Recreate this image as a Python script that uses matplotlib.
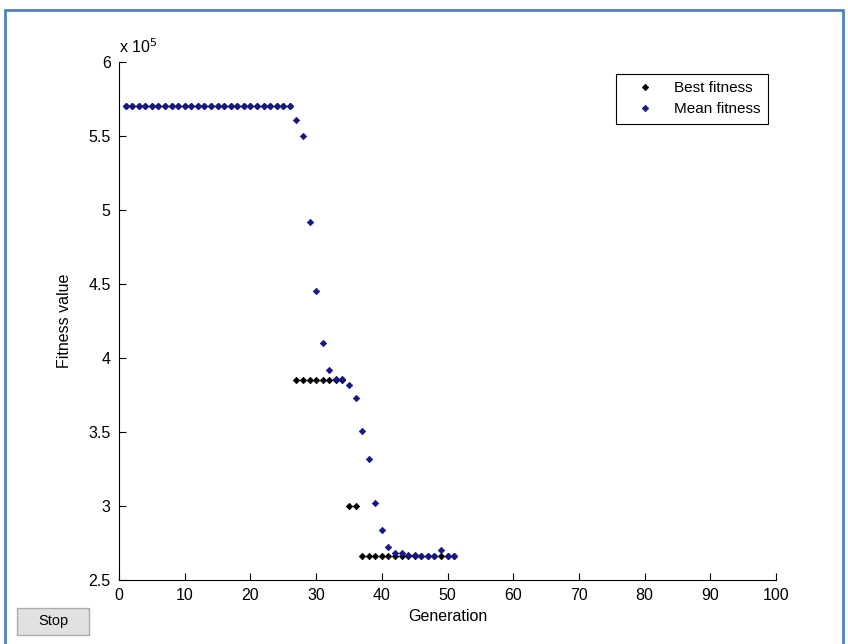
import matplotlib.pyplot as plt
from matplotlib.patches import Rectangle

plt.rcParams["font.family"] = ["Liberation Sans", "DejaVu Sans"]

# GA fitness per generation (x 1e5)
generations = list(range(1, 52))
best_fitness = [5.70] * 26 + [3.85] * 8 + [3.00] * 2 + [2.66] * 15
mean_fitness = [5.70] * 26 + [
    5.61, 5.50, 4.92, 4.45, 4.10, 3.92, 3.86, 3.86, 3.82, 3.73,
    3.51, 3.32, 3.02, 2.84, 2.72, 2.68, 2.68, 2.67, 2.67, 2.66,
    2.66, 2.66, 2.70, 2.66, 2.66,
]
x_ticks = list(range(0, 101, 10))
y_ticks = [2.5, 3, 3.5, 4, 4.5, 5, 5.5, 6]

W, H = 848, 644
fig = plt.figure(figsize=(W / 100, H / 100), dpi=100)
fig.patch.set_facecolor("white")

# screenshot frame
fig.patches.append(Rectangle((5 / W, -0.05), 838 / W, 1.05 - 10 / H,
                             transform=fig.transFigure, fill=False,
                             edgecolor="#4f81bd", linewidth=2))

ax = fig.add_axes([119 / W, 1 - 580 / H, (776 - 119) / W, (580 - 62) / H])
ax.plot(generations, best_fitness, "D", color="black", markersize=3.3,
        markeredgewidth=0.5, label="Best fitness")
ax.plot(generations, mean_fitness, "D", color="#16168a", markersize=3.3,
        markeredgewidth=0.5, label="Mean fitness")

ax.set_xlim(0, 100)
ax.set_ylim(2.5, 6)
ax.set_xticks(x_ticks)
ax.set_yticks(y_ticks)
ax.set_yticklabels([f"{v:g}" for v in y_ticks])
ax.tick_params(direction="in", length=5, labelsize=11.5, pad=6)
for s in ["top", "right"]:
    ax.spines[s].set_visible(False)

ax.set_xlabel("Generation", fontsize=11.5, labelpad=4)
ax.set_ylabel("Fitness value", fontsize=11.5, labelpad=12)
ax.text(0, 1.012, "x 10$^5$", transform=ax.transAxes, fontsize=11.5,
        ha="left", va="bottom")

leg = ax.legend(loc="upper right", bbox_to_anchor=(0.995, 0.986), fontsize=11,
                fancybox=False, edgecolor="black", framealpha=1,
                handletextpad=0.5, borderpad=0.5, labelspacing=0.45,
                handlelength=2.8, borderaxespad=0.3)
leg.get_frame().set_linewidth(0.8)

# Stop button
fig.patches.append(Rectangle((17 / W, 1 - 635 / H), 72 / W, 27 / H,
                             transform=fig.transFigure, facecolor="#e1e1e1",
                             edgecolor="#adadad", linewidth=1))
fig.text(53 / W, 1 - 621 / H, "Stop", fontsize=10.5, ha="center", va="center")

fig.savefig("out.png", dpi=100)
